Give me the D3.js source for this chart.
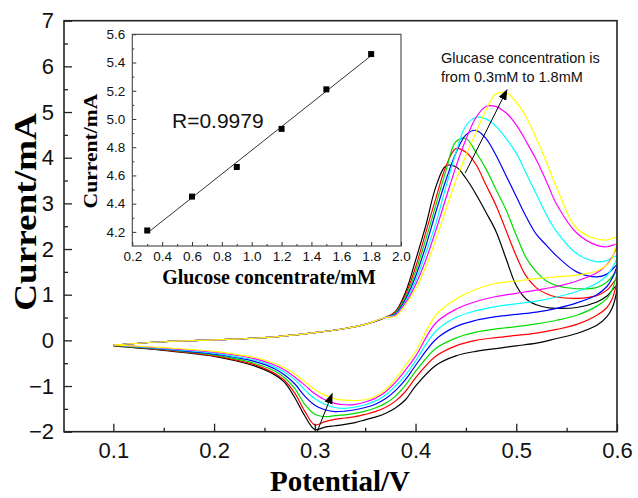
<!DOCTYPE html>
<html><head><meta charset="utf-8">
<script src="https://cdn.jsdelivr.net/npm/d3@7"></script>
<style>body{margin:0;background:#fff}</style>
</head><body>
<svg id="chart" width="638" height="498"></svg>
<script>
// ---------- DATA ----------
const potentialForward = [0.10,0.15,0.20,0.25,0.30,0.33,0.35,0.37,0.38,0.39,0.40,0.41,0.42,0.43,0.44,0.45,0.46,0.47,0.48,0.49,0.50,0.51,0.52,0.53,0.54,0.56,0.58,0.59,0.60];
const potentialReverse = [0.60,0.598,0.595,0.59,0.58,0.56,0.54,0.52,0.50,0.48,0.46,0.44,0.42,0.40,0.39,0.38,0.37,0.36,0.35,0.34,0.33,0.32,0.31,0.30,0.29,0.28,0.27,0.26,0.24,0.22,0.20,0.15,0.10];

const forwardBlack   = [-0.10,-0.03,0.01,0.06,0.17,0.26,0.35,0.50, 0.63,1.05,1.75,2.5,3.35,3.82,3.80,3.55,3.2,2.8,2.38,1.78,1.2,0.9,0.78,0.72,0.70,0.72,0.84,0.97,1.2];
const forwardRed     = [-0.10,-0.03,0.01,0.06,0.17,0.26,0.35,0.50, 0.62,1.0,1.6,2.35,3.1,3.8,4.2,4.12,3.85,3.4,2.95,2.4,1.85,1.4,1.15,1.02,0.95,0.92,0.98,1.1,1.35];
const forwardGreen   = [-0.10,-0.03,0.01,0.06,0.17,0.26,0.35,0.50, 0.6,0.95,1.5,2.2,2.95,3.7,4.35,4.42,4.12,3.75,3.3,2.85,2.3,1.8,1.5,1.3,1.2,1.13,1.16,1.28,1.5];
const forwardBlue    = [-0.10,-0.03,0.01,0.06,0.17,0.26,0.35,0.50, 0.58,0.9,1.4,2.05,2.8,3.5,4.1,4.5,4.6,4.42,4.05,3.6,3.15,2.7,2.32,2.08,1.85,1.5,1.39,1.45,1.65];
const forwardCyan    = [-0.10,-0.03,0.01,0.06,0.17,0.26,0.35,0.50, 0.56,0.85,1.3,1.9,2.55,3.35,4.1,4.7,4.88,4.85,4.68,4.42,4.1,3.65,3.2,2.75,2.38,1.9,1.72,1.75,1.85];
const forwardMagenta = [-0.10,-0.03,0.01,0.06,0.17,0.26,0.35,0.50, 0.55,0.82,1.22,1.75,2.4,3.1,3.8,4.4,4.88,5.12,5.12,4.98,4.72,4.35,3.95,3.48,2.98,2.35,2.08,2.05,2.1];
const forwardYellow  = [-0.10,-0.03,0.01,0.06,0.17,0.26,0.35,0.50, 0.53,0.78,1.12,1.6,2.2,2.85,3.5,4.05,4.55,5.05,5.4,5.42,5.22,4.88,4.42,3.9,3.35,2.45,2.22,2.2,2.25];

const reverseBlack   = [1.2,0.9,0.7,0.52,0.33,0.15,0.04,-0.06,-0.12,-0.18,-0.24,-0.34,-0.55,-1.0,-1.3,-1.48,-1.6,-1.68,-1.74,-1.8,-1.84,-1.87,-1.9,-1.95,-1.65,-1.25,-0.92,-0.75,-0.56,-0.44,-0.35,-0.22,-0.12];
const reverseRed     = [1.35,1.1,0.9,0.72,0.55,0.35,0.24,0.16,0.11,0.06,0.0,-0.12,-0.35,-0.82,-1.12,-1.33,-1.47,-1.56,-1.62,-1.67,-1.7,-1.73,-1.78,-1.85,-1.55,-1.15,-0.88,-0.72,-0.53,-0.42,-0.34,-0.21,-0.11];
const reverseGreen   = [1.5,1.3,1.1,0.92,0.75,0.55,0.44,0.36,0.3,0.25,0.18,0.05,-0.18,-0.68,-0.98,-1.22,-1.38,-1.48,-1.55,-1.6,-1.63,-1.65,-1.67,-1.62,-1.4,-1.05,-0.82,-0.67,-0.5,-0.4,-0.32,-0.2,-0.11];
const reverseBlue    = [1.65,1.5,1.35,1.18,1.0,0.82,0.7,0.62,0.57,0.52,0.44,0.3,0.02,-0.55,-0.86,-1.1,-1.28,-1.4,-1.47,-1.52,-1.55,-1.56,-1.52,-1.42,-1.22,-0.95,-0.76,-0.62,-0.46,-0.37,-0.3,-0.19,-0.1];
const reverseCyan    = [1.85,1.7,1.58,1.42,1.25,1.07,0.95,0.86,0.8,0.74,0.65,0.5,0.2,-0.45,-0.76,-1.0,-1.2,-1.33,-1.41,-1.46,-1.49,-1.47,-1.4,-1.28,-1.08,-0.86,-0.7,-0.58,-0.43,-0.35,-0.28,-0.18,-0.1];
const reverseMagenta = [2.1,1.95,1.82,1.66,1.48,1.3,1.18,1.1,1.03,0.96,0.85,0.68,0.38,-0.35,-0.65,-0.92,-1.13,-1.27,-1.35,-1.4,-1.41,-1.38,-1.3,-1.17,-0.98,-0.8,-0.65,-0.54,-0.4,-0.32,-0.26,-0.17,-0.1];
const reverseYellow  = [2.25,2.0,1.8,1.65,1.52,1.43,1.39,1.35,1.3,1.25,1.12,0.9,0.55,-0.25,-0.55,-0.85,-1.08,-1.23,-1.3,-1.32,-1.31,-1.28,-1.2,-1.08,-0.9,-0.74,-0.6,-0.5,-0.37,-0.3,-0.24,-0.16,-0.1];

const seriesNames = ["0 mM","0.3 mM","0.6 mM","0.9 mM","1.2 mM","1.5 mM","1.8 mM"];

const glucoseConc = [0.3,0.6,0.9,1.2,1.5,1.8];
const peakCurrent = [4.21,4.45,4.66,4.93,5.21,5.46];

const xTicks = [0.1,0.2,0.3,0.4,0.5,0.6];
const xMinorTicks = [0.15,0.25,0.35,0.45,0.55];
const yTicks = [-2,-1,0,1,2,3,4,5,6,7];
const yMinorTicks = [-1.5,-0.5,0.5,1.5,2.5,3.5,4.5,5.5,6.5];
const insetXTicks = [0.2,0.4,0.6,0.8,1.0,1.2,1.4,1.6,1.8,2.0];
const insetXMinor = [0.3,0.5,0.7,0.9,1.1,1.3,1.5,1.7,1.9];
const insetYTicks = [4.2,4.4,4.6,4.8,5.0,5.2,5.4,5.6];
const insetYMinor = [4.3,4.5,4.7,4.9,5.1,5.3,5.5];

const annotationLines = ["Glucase concentration is","from 0.3mM to 1.8mM"];

// ---------- STYLE ----------
const seriesColors = ["#000000","#ff0000","#00dd00","#0000ff","#00ffff","#ff00ff","#ffff00"];
const SANS = "'Liberation Sans', Arial, sans-serif";
const SERIF = "'Liberation Serif', 'Times New Roman', serif";

const forwardSets = [forwardBlack,forwardRed,forwardGreen,forwardBlue,forwardCyan,forwardMagenta,forwardYellow];
const reverseSets = [reverseBlack,reverseRed,reverseGreen,reverseBlue,reverseCyan,reverseMagenta,reverseYellow];

const svg = d3.select("#chart");
const P = {left:64, right:617, top:20.7, bottom:431.7};
const x = d3.scaleLinear().domain([0.051,0.6]).range([P.left,P.right]);
const y = d3.scaleLinear().domain([-2,7]).range([P.bottom,P.top]);

const defs = svg.append("defs");
defs.append("clipPath").attr("id","clip")
  .append("rect").attr("x",P.left).attr("y",P.top).attr("width",P.right-P.left).attr("height",P.bottom-P.top);
defs.append("marker").attr("id","arrow").attr("viewBox","0 0 10 10").attr("refX",9).attr("refY",5)
  .attr("markerUnits","userSpaceOnUse").attr("markerWidth",11).attr("markerHeight",11).attr("orient","auto")
  .append("path").attr("d","M0,1.2 L10,5 L0,8.8 z").attr("fill","#000");

// curves
const line = d3.line().x(d=>x(d[0])).y(d=>y(d[1])).curve(d3.curveCatmullRom.alpha(0.5));
const cg = svg.append("g").attr("clip-path","url(#clip)");
seriesNames.forEach((name,k)=>{
  const pts = potentialForward.map((p,i)=>[p,forwardSets[k][i]])
    .concat(potentialReverse.slice(1).map((p,i)=>[p,reverseSets[k][i+1]]));
  cg.append("path").attr("d",line(pts)).attr("fill","none")
    .attr("stroke",seriesColors[k]).attr("stroke-width",1.2).attr("stroke-linejoin","round");
});

// axes
function styleAxis(g, fs){
  g.select(".domain").remove();
  g.selectAll("line").attr("stroke","#222").attr("stroke-width",1.3);
  g.selectAll("text").attr("font-size",fs).attr("font-family",SANS).attr("fill","#111");
}
const xa = svg.append("g").attr("transform",`translate(0,${P.bottom})`)
  .call(d3.axisBottom(x).tickValues(xTicks).tickSize(-8).tickPadding(11).tickFormat(d3.format(".1f")));
styleAxis(xa,22);
const xm = svg.append("g").attr("transform",`translate(0,${P.bottom})`)
  .call(d3.axisBottom(x).tickValues(xMinorTicks).tickSize(-4).tickFormat(""));
styleAxis(xm,1);
const ya = svg.append("g").attr("transform",`translate(${P.left},0)`)
  .call(d3.axisLeft(y).tickValues(yTicks).tickSize(-8).tickPadding(10).tickFormat(d3.format("d")));
styleAxis(ya,22);
const ym = svg.append("g").attr("transform",`translate(${P.left},0)`)
  .call(d3.axisLeft(y).tickValues(yMinorTicks).tickSize(-4).tickFormat(""));
styleAxis(ym,1);

svg.append("rect").attr("x",P.left).attr("y",P.top).attr("width",P.right-P.left).attr("height",P.bottom-P.top)
  .attr("fill","none").attr("stroke","#222").attr("stroke-width",1.6);

// titles
svg.append("g").attr("transform","translate(340,491) scale(1,1.05)")
  .append("text").attr("text-anchor","middle").attr("font-family",SERIF).attr("font-weight","bold")
  .attr("font-size",29).attr("fill","#000").text("Potential/V");
svg.append("g").attr("transform","translate(36,212) rotate(-90) scale(1.2,1)")
  .append("text").attr("text-anchor","middle").attr("font-family",SERIF).attr("font-weight","bold")
  .attr("font-size",31).attr("fill","#000").text("Current/mA");

// annotations (arrows)
svg.append("line").attr("x1",x(0.4493)).attr("y1",y(3.665)).attr("x2",x(0.4907)).attr("y2",y(5.483))
  .attr("stroke","#000").attr("stroke-width",1).attr("marker-end","url(#arrow)");
svg.append("line").attr("x1",x(0.3023)).attr("y1",y(-2.0)).attr("x2",x(0.3172)).attr("y2",y(-1.17))
  .attr("stroke","#000").attr("stroke-width",1).attr("marker-end","url(#arrow)");
svg.append("text").attr("x",441).attr("y",63).attr("font-family",SANS).attr("font-size",14.5).attr("fill","#111").text(annotationLines[0]);
svg.append("text").attr("x",441).attr("y",82).attr("font-family",SANS).attr("font-size",14.5).attr("fill","#111").text(annotationLines[1]);

// ---------- INSET ----------
const I = {left:132.3, right:401, top:34.3, bottom:246};
const xi = d3.scaleLinear().domain([0.2,2.0]).range([I.left,I.right]);
const yi = d3.scaleLinear().domain([4.1,5.6]).range([I.bottom,I.top]);
svg.append("rect").attr("x",I.left).attr("y",I.top).attr("width",I.right-I.left).attr("height",I.bottom-I.top)
  .attr("fill","#fff").attr("stroke","none");

const ixa = svg.append("g").attr("transform",`translate(0,${I.bottom})`)
  .call(d3.axisBottom(xi).tickValues(insetXTicks).tickSize(-4).tickPadding(5).tickFormat(d3.format(".1f")));
styleAxis(ixa,13.5);
const ixm = svg.append("g").attr("transform",`translate(0,${I.bottom})`)
  .call(d3.axisBottom(xi).tickValues(insetXMinor).tickSize(-2).tickFormat(""));
styleAxis(ixm,1);
const iya = svg.append("g").attr("transform",`translate(${I.left},0)`)
  .call(d3.axisLeft(yi).tickValues(insetYTicks).tickSize(-4).tickPadding(7).tickFormat(d3.format(".1f")));
styleAxis(iya,13.5);
const iym = svg.append("g").attr("transform",`translate(${I.left},0)`)
  .call(d3.axisLeft(yi).tickValues(insetYMinor).tickSize(-2).tickFormat(""));
styleAxis(iym,1);
[ixa,ixm,iya,iym].forEach(g=>g.selectAll("line").attr("stroke-width",1).attr("stroke","#333"));

svg.append("rect").attr("x",I.left).attr("y",I.top).attr("width",I.right-I.left).attr("height",I.bottom-I.top)
  .attr("fill","none").attr("stroke","#444").attr("stroke-width",1.1);

// linear fit (least squares from data)
const mx = d3.mean(glucoseConc), my = d3.mean(peakCurrent);
const slope = d3.sum(glucoseConc.map((c,i)=>(c-mx)*(peakCurrent[i]-my)))/d3.sum(glucoseConc.map(c=>(c-mx)*(c-mx)));
const icpt = my - slope*mx;
const xf = d3.extent(glucoseConc);
svg.append("line").attr("x1",xi(xf[0])).attr("y1",yi(icpt+slope*xf[0])).attr("x2",xi(xf[1])).attr("y2",yi(icpt+slope*xf[1]))
  .attr("stroke","#333").attr("stroke-width",1);
svg.append("g").selectAll("rect").data(glucoseConc).join("rect")
  .attr("x",(d)=>xi(d)-3).attr("y",(d,i)=>yi(peakCurrent[i])-3).attr("width",6).attr("height",6).attr("fill","#000");

svg.append("text").attr("x",172).attr("y",128).attr("font-family",SANS).attr("font-size",21).attr("fill","#111").text("R=0.9979");

svg.append("g").attr("transform","translate(269,284) scale(1,1.1)")
  .append("text").attr("text-anchor","middle").attr("font-family",SERIF).attr("font-weight","bold")
  .attr("font-size",20).attr("fill","#000").text("Glucose concentrate/mM");
svg.append("g").attr("transform","translate(97,151) rotate(-90) scale(1.2,1)")
  .append("text").attr("text-anchor","middle").attr("font-family",SERIF).attr("font-weight","bold")
  .attr("font-size",18).attr("fill","#000").text("Current/mA");
</script>
</body></html>
